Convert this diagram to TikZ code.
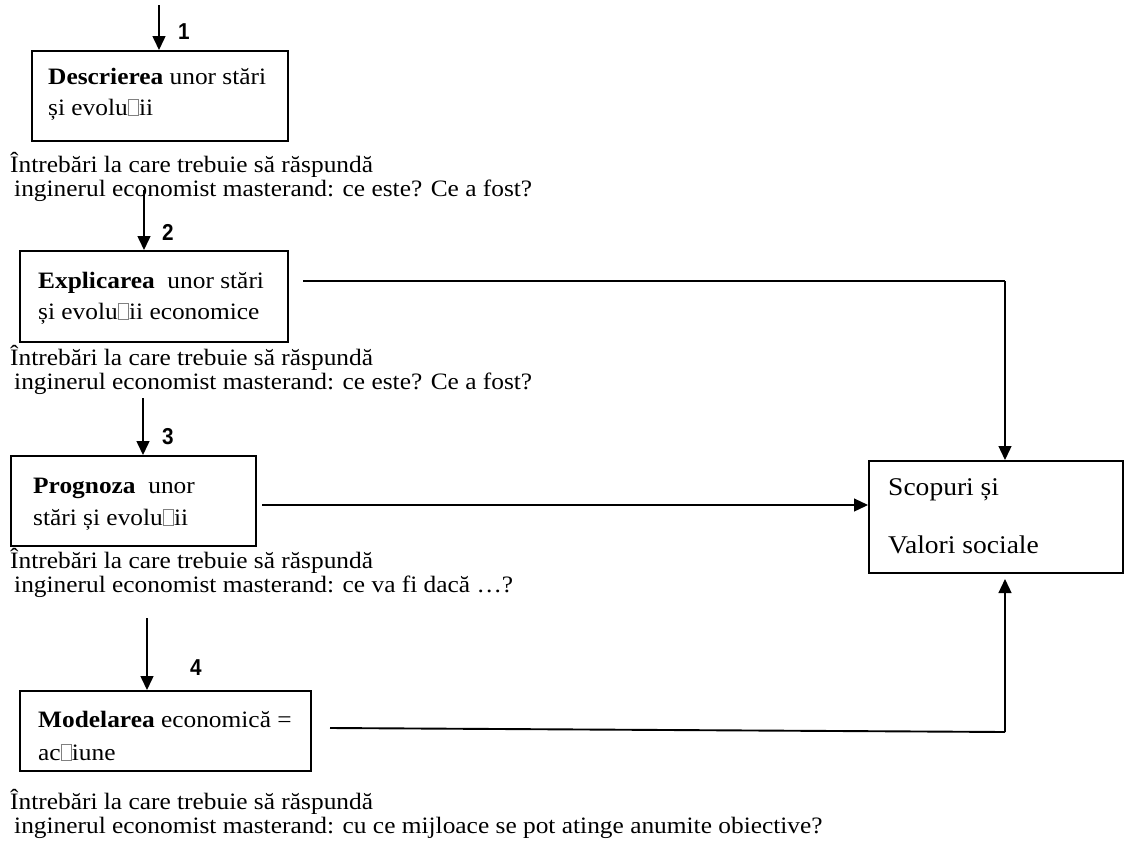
\documentclass[tikz,border=0pt]{standalone}
\usepackage{fontspec}
\setmainfont{Liberation Serif}[FakeStretch=1.08]
\newfontfamily\numfont{Liberation Sans}[FakeStretch=0.9]
\usetikzlibrary{arrows.meta}
\newcommand\gapbox{{\setlength\fboxsep{0pt}\setlength\fboxrule{0.6pt}\textcolor{gray}{\fbox{\rule{0pt}{15pt}\hspace{10pt}}}}}
\tikzset{
  box/.style={draw, line width=2pt, rectangle, anchor=north west, inner sep=0pt},
  txt/.style={anchor=base west, inner sep=0pt, font=\fontsize{23.5}{25}\selectfont},
  bigtxt/.style={anchor=base west, inner sep=0pt, font=\fontsize{25.5}{27}\selectfont},
  num/.style={anchor=center, inner sep=0pt, font=\numfont\bfseries\fontsize{23}{25}\selectfont},
  tip/.style={-{Triangle[length=14pt,width=13pt]}},
  conn/.style={line width=1.5pt, tip},
  hline/.style={line width=1.9pt},
}
\begin{document}
\begin{tikzpicture}[x=1pt,y=-1pt]
\useasboundingbox (0,0) rectangle (1125,852);
% boxes
\node[box, minimum width=256pt, minimum height=90pt] (b1) at (31,50) {};
\node[box, minimum width=268pt, minimum height=91pt] (b2) at (19,250) {};
\node[box, minimum width=245pt, minimum height=90pt] (b3) at (10,455) {};
\node[box, minimum width=291pt, minimum height=80pt] (b4) at (19,690) {};
\node[box, minimum width=254pt, minimum height=112pt] (sv) at (868,460) {};
% box texts
\node[txt] (t1a) at (48,84) {\textbf{Descrierea} unor stări};
\node[txt] (t1b) at (48,115) {și evolu\gapbox ii};
\node[txt] (t2a) at (38,288) {\textbf{Explicarea}\ \ unor stări};
\node[txt] (t2b) at (38,319) {și evolu\gapbox ii economice};
\node[txt] (t3a) at (33,493) {\textbf{Prognoza}\ \ unor};
\node[txt] (t3b) at (33,525) {stări și evolu\gapbox ii};
\node[txt] (t4a) at (38,727) {\textbf{Modelarea} economică =};
\node[txt] (t4b) at (38,760) {ac\gapbox iune};
\node[bigtxt] (sva) at (888,495) {Scopuri și};
\node[bigtxt] (svb) at (888,553) {Valori sociale};
% question texts
\node[txt] (qa1) at (10,172) {Întrebări la care trebuie să răspundă};
\node[txt] (qa2) at (14,196) {inginerul economist masterand: ce este? Ce a fost?};
\node[txt] (qb1) at (10,365) {Întrebări la care trebuie să răspundă};
\node[txt] (qb2) at (14,389) {inginerul economist masterand: ce este? Ce a fost?};
\node[txt] (qc1) at (10,568) {Întrebări la care trebuie să răspundă};
\node[txt] (qc2) at (14,592) {inginerul economist masterand: ce va fi dacă …?};
\node[txt] (qd1) at (10,809) {Întrebări la care trebuie să răspundă};
\node[txt] (qd2) at (14,833) {inginerul economist masterand: cu ce mijloace se pot atinge anumite obiective?};
% numbers
\node[num] (n1) at (184,32) {1};
\node[num] (n2) at (168,232) {2};
\node[num] (n3) at (168,437) {3};
\node[num] (n4) at (196,668) {4};
% arrow start points
\coordinate (s1) at (159,5);
\coordinate (s2) at (144,190);
\coordinate (s3) at (143,398);
\coordinate (s4) at (147,618);
\draw[conn] (s1) -- (s1 |- b1.north);
\draw[conn] (s2) -- (s2 |- b2.north);
\draw[conn] (s3) -- (s3 |- b3.north);
\draw[conn] (s4) -- (s4 |- b4.north);
% connectors to goals
\coordinate (e2) at (303,281);
\coordinate (c2) at (1005,281);
\coordinate (e3) at (262,505);
\coordinate (e4) at (330,728);
\coordinate (k4) at (1005,732);
\draw[hline] (e2) -- (c2);
\draw[conn, line width=1.3pt] (c2) -- (c2 |- sv.north);
\draw[conn, line width=1.2pt] (e3) -- (e3 -| sv.west);
\draw[hline] (e4) -- (k4);
\draw[conn, line width=1.3pt] (k4) -- ([yshift=-5pt]k4 |- sv.south);
\end{tikzpicture}
\end{document}
